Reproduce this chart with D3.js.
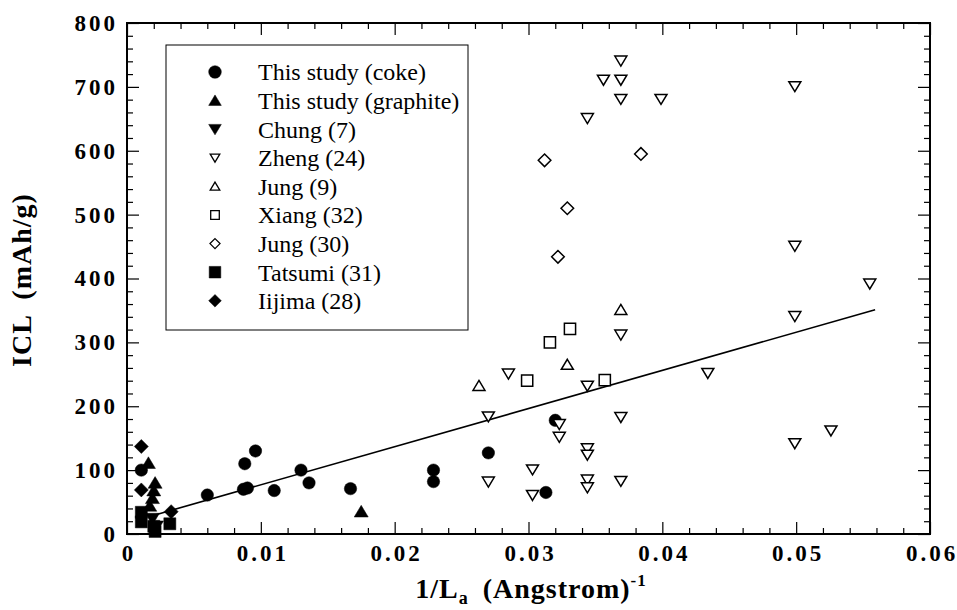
<!DOCTYPE html>
<html>
<head>
<meta charset="utf-8">
<script src="https://cdn.jsdelivr.net/npm/d3@7/dist/d3.min.js"></script>
<style>
  html, body { margin: 0; padding: 0; background: #fff; }
  svg { display: block; }
</style>
</head>
<body>
<svg id="chart" width="957" height="610"></svg>
<script>
// ---------------- DATA ----------------
const seriesNames = ["This study (coke)", "This study (graphite)", "Chung (7)", "Zheng (24)",
  "Jung (9)", "Xiang (32)", "Jung (30)", "Tatsumi (31)", "Iijima (28)"];

const cokeX = [0.00107, 0.0060, 0.0088, 0.0096, 0.0087, 0.0090, 0.0110, 0.0130, 0.0136, 0.0167, 0.0229, 0.0229, 0.0270, 0.0320, 0.0313];
const cokeY = [100, 61, 110, 130, 70, 72, 68, 100, 80, 71, 100, 82, 127, 178, 65];

const graphiteX = [0.0016, 0.0021, 0.0020, 0.0019, 0.0017, 0.0175];
const graphiteY = [111, 80, 68, 56, 44, 35];

const chungX = [0.0019, 0.0022];
const chungY = [24, 12];

const zhengX = [0.0369, 0.0356, 0.0369, 0.0369, 0.0399, 0.0344, 0.0499, 0.0499, 0.0555, 0.0499, 0.0434, 0.0526, 0.0499,
  0.0369, 0.0369, 0.0369, 0.0285, 0.0344, 0.0270, 0.0323, 0.0323, 0.0344, 0.0344, 0.0270, 0.0303, 0.0303, 0.0344, 0.0344];
const zhengY = [741, 711, 711, 681, 681, 651, 701, 451, 392, 341, 252, 162, 142,
  312, 183, 83, 251, 232, 184, 172, 152, 134, 124, 82, 101, 61, 85, 73];

const jung9X = [0.0263, 0.0329, 0.0369];
const jung9Y = [232, 265, 351];

const xiangX = [0.0331, 0.0316, 0.0299, 0.0357];
const xiangY = [321, 300, 240, 241];

const jung30X = [0.0312, 0.0384, 0.0329, 0.0322];
const jung30Y = [585, 595, 510, 434];

const tatsumiX = [0.00107, 0.00107, 0.0020, 0.0021, 0.0032];
const tatsumiY = [34, 19, 12, 4, 16];

const iijimaX = [0.00107, 0.00107, 0.0033];
const iijimaY = [137, 69, 35];

const fitX = [0.0017, 0.0559];
const fitY = [27.5, 351];

const xTickValues = [0, 0.01, 0.02, 0.03, 0.04, 0.05, 0.06];
const xTickLabels = ["0", "0.01", "0.02", "0.03", "0.04", "0.05", "0.06"];
const yTickValues = [0, 100, 200, 300, 400, 500, 600, 700, 800];
const yTickLabels = ["0", "100", "200", "300", "400", "500", "600", "700", "800"];
const xMinorStep = 0.002;
const yMinorStep = 20;

// ---------------- SYMBOLS ----------------
const circleT = { draw(c, r) { c.moveTo(r, 0); c.arc(0, 0, r, 0, 2 * Math.PI); c.closePath(); } };
const triUpT = { draw(c, r) { const h = r * 0.9; c.moveTo(0, -h); c.lineTo(r, h * 0.85); c.lineTo(-r, h * 0.85); c.closePath(); } };
const triDownT = { draw(c, r) { const h = r * 0.9; c.moveTo(0, h); c.lineTo(r, -h * 0.85); c.lineTo(-r, -h * 0.85); c.closePath(); } };
const squareT = { draw(c, r) { c.moveTo(-r, -r); c.lineTo(r, -r); c.lineTo(r, r); c.lineTo(-r, r); c.closePath(); } };
const diamondT = { draw(c, r) { c.moveTo(0, -r); c.lineTo(r, 0); c.lineTo(0, r); c.lineTo(-r, 0); c.closePath(); } };

const series = [
  { name: seriesNames[0], xs: cokeX, ys: cokeY, type: circleT, filled: true, size: 6.2, lsize: 6.3 },
  { name: seriesNames[1], xs: graphiteX, ys: graphiteY, type: triUpT, filled: true, size: 7, lsize: 6.3 },
  { name: seriesNames[2], xs: chungX, ys: chungY, type: triDownT, filled: true, size: 7, lsize: 6.3 },
  { name: seriesNames[3], xs: zhengX, ys: zhengY, type: triDownT, filled: false, size: 6, lsize: 4.8 },
  { name: seriesNames[4], xs: jung9X, ys: jung9Y, type: triUpT, filled: false, size: 6, lsize: 4.8 },
  { name: seriesNames[5], xs: xiangX, ys: xiangY, type: squareT, filled: false, size: 5.6, lsize: 4.3 },
  { name: seriesNames[6], xs: jung30X, ys: jung30Y, type: diamondT, filled: false, size: 6.3, lsize: 5 },
  { name: seriesNames[7], xs: tatsumiX, ys: tatsumiY, type: squareT, filled: true, size: 6, lsize: 5.8 },
  { name: seriesNames[8], xs: iijimaX, ys: iijimaY, type: diamondT, filled: true, size: 7, lsize: 6.3 }
];

// ---------------- LAYOUT ----------------
const svg = d3.select("#chart");
const L = 127, R = 930, T = 23, B = 534;
const x = d3.scaleLinear().domain([0, 0.06]).range([L, R]);
const y = d3.scaleLinear().domain([0, 800]).range([B, T]);

const serif = "'Liberation Serif', 'Times New Roman', serif";

const xMinor = d3.range(0, 0.06 + 1e-9, xMinorStep).filter(v => !xTickValues.some(t => Math.abs(t - v) < 1e-9));
const yMinor = d3.range(0, 800 + 1e-9, yMinorStep).filter(v => !yTickValues.some(t => Math.abs(t - v) < 1e-9));

function styleAxis(g) {
  g.select(".domain").remove();
  g.selectAll(".tick line").attr("stroke", "#000").attr("stroke-width", 1.2);
}

// minor ticks
svg.append("g").attr("transform", `translate(0,${B})`)
  .call(d3.axisBottom(x).tickValues(xMinor).tickSize(-6).tickFormat("")).call(styleAxis);
svg.append("g").attr("transform", `translate(0,${T})`)
  .call(d3.axisTop(x).tickValues(xMinor).tickSize(-6).tickFormat("")).call(styleAxis);
svg.append("g").attr("transform", `translate(${L},0)`)
  .call(d3.axisLeft(y).tickValues(yMinor).tickSize(-6).tickFormat("")).call(styleAxis);
svg.append("g").attr("transform", `translate(${R},0)`)
  .call(d3.axisRight(y).tickValues(yMinor).tickSize(-6).tickFormat("")).call(styleAxis);

// major ticks with labels
const gxb = svg.append("g").attr("transform", `translate(0,${B})`)
  .call(d3.axisBottom(x).tickValues(xTickValues).tickSize(-12).tickPadding(11)
    .tickFormat((d, i) => xTickLabels[i])).call(styleAxis);
svg.append("g").attr("transform", `translate(0,${T})`)
  .call(d3.axisTop(x).tickValues(xTickValues).tickSize(-12).tickFormat("")).call(styleAxis);
const gyl = svg.append("g").attr("transform", `translate(${L},0)`)
  .call(d3.axisLeft(y).tickValues(yTickValues).tickSize(-12).tickPadding(9)
    .tickFormat((d, i) => yTickLabels[i])).call(styleAxis);
svg.append("g").attr("transform", `translate(${R},0)`)
  .call(d3.axisRight(y).tickValues(yTickValues).tickSize(-12).tickFormat("")).call(styleAxis);

[gxb, gyl].forEach(g => g.selectAll(".tick text")
  .attr("font-family", serif).attr("font-weight", "bold").attr("font-size", 23)
  .attr("letter-spacing", "3px").attr("fill", "#000"));
gxb.selectAll(".tick text").attr("dx", "1.5px");

// frame
svg.append("rect").attr("x", L).attr("y", T).attr("width", R - L).attr("height", B - T)
  .attr("fill", "none").attr("stroke", "#000").attr("stroke-width", 2);

// regression line
svg.append("path")
  .datum(fitX.map((v, i) => [v, fitY[i]]))
  .attr("d", d3.line().x(d => x(d[0])).y(d => y(d[1])))
  .attr("fill", "none").attr("stroke", "#000").attr("stroke-width", 1.6);

// points
series.forEach(s => {
  const sym = d3.symbol().type(s.type).size(s.size);
  svg.append("g").selectAll("path")
    .data(s.xs.map((v, i) => [v, s.ys[i]]))
    .join("path")
    .attr("transform", d => `translate(${x(d[0])},${y(d[1])})`)
    .attr("d", sym)
    .attr("fill", s.filled ? "#000" : "#fff")
    .attr("stroke", "#000")
    .attr("stroke-width", s.filled ? 0.5 : 1.5);
});

// legend
const lg = svg.append("g");
lg.append("rect").attr("x", 166).attr("y", 45).attr("width", 302).attr("height", 285)
  .attr("fill", "#fff").attr("stroke", "#000").attr("stroke-width", 1);
series.forEach((s, i) => {
  const cy = 72 + i * 28.6;
  lg.append("path")
    .attr("transform", `translate(215,${cy})`)
    .attr("d", d3.symbol().type(s.type).size(s.lsize))
    .attr("fill", s.filled ? "#000" : "#fff")
    .attr("stroke", "#000")
    .attr("stroke-width", s.filled ? 0.5 : 1.3);
  lg.append("text").attr("x", 258).attr("y", cy).attr("dy", "0.35em")
    .attr("font-family", serif).attr("font-size", 24).attr("fill", "#000")
    .text(s.name);
});

// axis titles
const xt = svg.append("text").attr("x", 531).attr("y", 598).attr("text-anchor", "middle")
  .attr("font-family", serif).attr("font-weight", "bold").attr("font-size", 28)
  .attr("letter-spacing", "1px").attr("fill", "#000");
xt.append("tspan").text("1/L");
xt.append("tspan").attr("font-size", 18).attr("dy", 6).text("a");
xt.append("tspan").attr("dy", -6).attr("dx", 14).text("(Angstrom)");
xt.append("tspan").attr("font-size", 17).attr("dy", -12).text("-1");

svg.append("text").attr("transform", "translate(31,280) rotate(-90)").attr("text-anchor", "middle")
  .attr("font-family", serif).attr("font-weight", "bold").attr("font-size", 28)
  .attr("letter-spacing", "1px").attr("fill", "#000")
  .attr("xml:space", "preserve")
  .text("ICL  (mAh/g)");
</script>
</body>
</html>
